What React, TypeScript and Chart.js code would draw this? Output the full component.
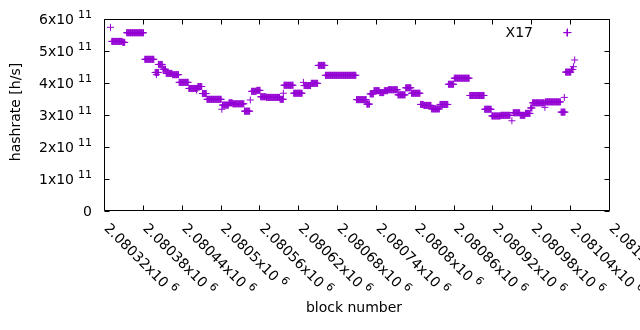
import React, { useEffect, useRef } from "react";
import { Chart, registerables } from "chart.js";

Chart.register(...registerables);

// Runs of consecutive blocks that share the same hashrate estimate (x 1e11 h/s)
const runStart = [
  2080330, 2080332, 2080349, 2080355, 2080383, 2080399, 2080401, 2080404, 2080411, 2080416,
  2080426, 2080436, 2080451, 2080463, 2080465, 2080472, 2080479, 2080502, 2080503, 2080513,
  2080519, 2080537, 2080546, 2080548, 2080556, 2080562, 2080571, 2080592, 2080597, 2080598,
  2080613, 2080628, 2080629, 2080640, 2080651, 2080662, 2080710, 2080726, 2080731, 2080737,
  2080746, 2080753, 2080759, 2080774, 2080786, 2080795, 2080809, 2080814, 2080826, 2080839,
  2080852, 2080861, 2080885, 2080908, 2080919, 2080933, 2080950, 2080952, 2080963, 2080971,
  2080979, 2080982, 2081001, 2081002, 2081026, 2081031, 2081035, 2081033, 2081042, 2081045,
  2081047,
];
const runEnd = [
  2080330, 2080348, 2080352, 2080381, 2080397, 2080404, 2080401, 2080410, 2080415, 2080425,
  2080435, 2080450, 2080464, 2080463, 2080471, 2080478, 2080501, 2080502, 2080512, 2080518,
  2080536, 2080545, 2080546, 2080555, 2080561, 2080570, 2080591, 2080597, 2080597, 2080612,
  2080626, 2080628, 2080639, 2080650, 2080661, 2080709, 2080725, 2080730, 2080736, 2080745,
  2080752, 2080758, 2080773, 2080785, 2080794, 2080808, 2080813, 2080825, 2080838, 2080851,
  2080860, 2080884, 2080907, 2080918, 2080932, 2080947, 2080950, 2080962, 2080970, 2080978,
  2080981, 2081000, 2081001, 2081025, 2081032, 2081031, 2081035, 2081041, 2081044, 2081045,
  2081047,
];
const runValue = [
  5.74, 5.30, 5.27, 5.57, 4.74, 4.33, 4.26, 4.58, 4.43, 4.30,
  4.26, 4.02, 3.83, 3.78, 3.89, 3.67, 3.49, 3.18, 3.31, 3.38,
  3.35, 3.12, 3.47, 3.74, 3.77, 3.57, 3.55, 3.49, 3.68, 3.93,
  3.68, 4.02, 3.92, 3.99, 4.55, 4.24, 3.48, 3.34, 3.66, 3.76,
  3.70, 3.76, 3.79, 3.63, 3.85, 3.68, 3.33, 3.30, 3.19, 3.33,
  3.96, 4.15, 3.61, 3.18, 2.97, 2.99, 2.82, 3.07, 2.99, 3.05,
  3.22, 3.38, 3.24, 3.41, 3.09, 3.55, 5.57, 4.34, 4.42, 4.51,
  4.72,
];

const xTickValues = [
  2080320, 2080380, 2080440, 2080500, 2080560, 2080620, 2080680,
  2080740, 2080800, 2080860, 2080920, 2080980, 2081040, 2081100,
];
const xTickMantissas = [
  "2.08032", "2.08038", "2.08044", "2.0805", "2.08056", "2.08062", "2.08068",
  "2.08074", "2.0808", "2.08086", "2.08092", "2.08098", "2.08104", "2.0811",
];
const xTickExponent = "6";
const yTickMantissas = [0, 1, 2, 3, 4, 5, 6];
const yTickExponent = "11";

const seriesLabel = "X17";
const xTitle = "block number";
const yTitle = "hashrate [h/s]";
const COLOR = "#9400d3";
const FONT = "'DejaVu Sans', sans-serif";

function buildPoints() {
  const pts: { x: number; y: number }[] = [];
  for (let i = 0; i < runStart.length; i++) {
    for (let b = runStart[i]; b <= runEnd[i]; b++) {
      pts.push({ x: b, y: runValue[i] * 1e11 });
    }
  }
  return pts;
}

const gnuplotAxes = {
  id: "gnuplotAxes",
  afterDraw(chart: any) {
    const ctx = chart.ctx as CanvasRenderingContext2D;
    const { left, right, top, bottom } = chart.chartArea;
    const xs = chart.scales.x;
    const ys = chart.scales.y;
    const L = Math.round(left) + 0.5;
    const R = Math.round(right) + 0.5;
    const T = Math.round(top) + 0.5;
    const B = Math.round(bottom) - 0.5;
    const TL = 5;
    ctx.save();
    ctx.strokeStyle = "#000";
    ctx.lineWidth = 1;
    ctx.beginPath();
    ctx.rect(L, T, R - L, B - T);
    // x ticks
    xTickValues.forEach((v) => {
      const px = Math.round(xs.getPixelForValue(v)) + 0.5;
      ctx.moveTo(px, B);
      ctx.lineTo(px, B - TL);
      ctx.moveTo(px, T);
      ctx.lineTo(px, T + TL);
    });
    // y ticks
    yTickMantissas.forEach((m) => {
      const py = Math.round(ys.getPixelForValue(m * 1e11)) + 0.5;
      ctx.moveTo(L, py);
      ctx.lineTo(L + TL, py);
      ctx.moveTo(R, py);
      ctx.lineTo(R - TL, py);
    });
    ctx.stroke();

    ctx.fillStyle = "#000";
    // y labels
    yTickMantissas.forEach((m) => {
      const py = ys.getPixelForValue(m * 1e11);
      const rightEdge = 92;
      if (m === 0) {
        ctx.font = `14px ${FONT}`;
        ctx.textAlign = "right";
        ctx.textBaseline = "alphabetic";
        ctx.fillText("0", rightEdge, py + 5);
        return;
      }
      ctx.font = `11px ${FONT}`;
      const w2 = ctx.measureText(yTickExponent).width;
      ctx.textAlign = "left";
      ctx.textBaseline = "alphabetic";
      ctx.fillText(yTickExponent, rightEdge - w2, py - 1);
      ctx.font = `14px ${FONT}`;
      ctx.textAlign = "right";
      ctx.fillText(`${m}x10`, rightEdge - w2 - 4, py + 5);
    });

    // x labels rotated
    xTickValues.forEach((v, i) => {
      const px = xs.getPixelForValue(v);
      ctx.save();
      ctx.translate(px - 0.5, 229);
      ctx.rotate(Math.PI / 4);
      ctx.font = `14px ${FONT}`;
      ctx.textAlign = "left";
      ctx.textBaseline = "alphabetic";
      const main = `${xTickMantissas[i]}x10`;
      ctx.fillText(main, 0, 0);
      const w = ctx.measureText(main).width;
      ctx.font = `11px ${FONT}`;
      ctx.fillText(xTickExponent, w + 4, -6);
      ctx.restore();
    });

    // axis titles
    ctx.font = `14px ${FONT}`;
    ctx.textAlign = "center";
    ctx.textBaseline = "alphabetic";
    ctx.fillText(xTitle, 354, 312);
    ctx.save();
    ctx.translate(20, 112);
    ctx.rotate(-Math.PI / 2);
    ctx.fillText(yTitle, 0, 0);
    ctx.restore();

    // legend
    ctx.textAlign = "right";
    ctx.fillText(seriesLabel, 533, 37);
    ctx.strokeStyle = COLOR;
    ctx.beginPath();
    ctx.moveTo(563.5, 32.5);
    ctx.lineTo(571.5, 32.5);
    ctx.moveTo(567.5, 28.5);
    ctx.lineTo(567.5, 36.5);
    ctx.stroke();
    ctx.restore();
  },
};

export default function App() {
  const ref = useRef<HTMLCanvasElement | null>(null);
  useEffect(() => {
    if (!ref.current) return;
    const chart = new Chart(ref.current, {
      type: "scatter",
      data: {
        datasets: [
          {
            label: seriesLabel,
            data: buildPoints(),
            pointStyle: "cross",
            pointRadius: 3.5,
            pointHoverRadius: 3.5,
            borderColor: COLOR,
            backgroundColor: COLOR,
            pointBorderWidth: 1,
            borderWidth: 1,
            showLine: false,
          } as any,
        ],
      },
      options: {
        responsive: false,
        animation: false,
        events: [],
        layout: { padding: { left: 0, top: 19, right: 31, bottom: 0 } },
        plugins: { legend: { display: false }, tooltip: { enabled: false } },
        scales: {
          x: {
            type: "linear",
            min: 2080320,
            max: 2081100,
            ticks: { display: false },
            grid: { display: false },
            border: { display: false },
            afterFit: (s: any) => {
              s.height = 119;
            },
          },
          y: {
            type: "linear",
            min: 0,
            max: 6e11,
            ticks: { display: false },
            grid: { display: false },
            border: { display: false },
            afterFit: (s: any) => {
              s.width = 104;
            },
          },
        },
      } as any,
      plugins: [gnuplotAxes],
    });
    return () => chart.destroy();
  }, []);
  return (
    <div style={{ position: "fixed", left: 0, top: 0, width: 640, height: 330, background: "#fff" }}>
      <canvas ref={ref} width={640} height={330} style={{ display: "block" }} />
    </div>
  );
}
